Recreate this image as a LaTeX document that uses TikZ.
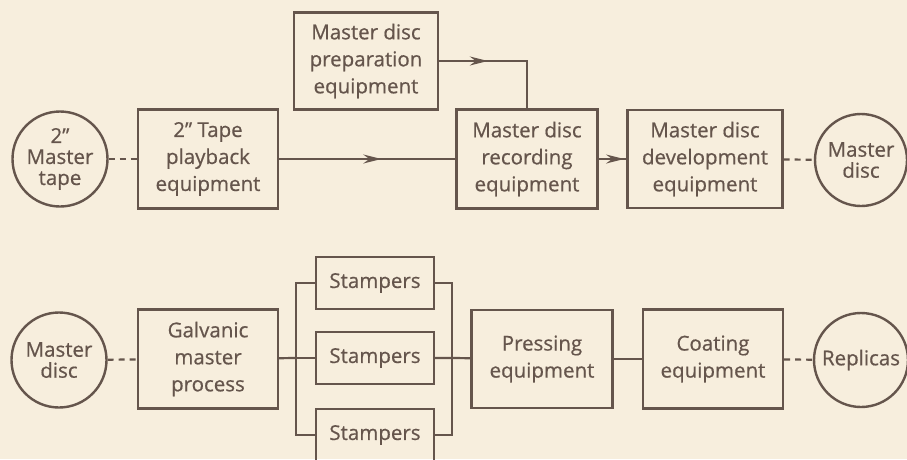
\documentclass[tikz,border=0pt]{standalone}
\usepackage{fontspec}
\setmainfont{Open Sans}[FakeBold=0.6]
\usetikzlibrary{arrows.meta,decorations.markings}
\definecolor{paper}{HTML}{F7EEDD}
\definecolor{ink}{HTML}{65554C}

\begin{document}
\begin{tikzpicture}[
    x=1pt, y=-1pt,
    every node/.style={font=\fontsize{20.5}{27}\selectfont, align=center, text=ink},
    box/.style={draw=ink, line width=2.4pt, minimum width=#1, inner sep=2pt},
    box/.default=140pt,
    disc/.style={draw=ink, line width=2.4pt, circle, minimum size=95pt, inner sep=0pt},
    link/.style={draw=ink, line width=2.2pt},
    dashlink/.style={link, dash pattern=on 6pt off 5pt},
    midarrow/.style={postaction={decorate}, decoration={markings,
        mark=at position #1 with {\arrow{Stealth[length=18pt, width=9pt, inset=6pt]}}}},
  ]
  \fill[paper] (0,0) rectangle (907,459);
  \useasboundingbox (0,0) rectangle (907,459);

  % recording line
  \node[disc] (tape) at (60,159) {2"\\[-6pt]Master\\[-6pt]tape};
  \node[box, minimum height=99pt] (play) at (208,159) {2" Tape\\playback\\equipment};
  \node[box=144pt, minimum height=97pt] (prep) at (366,61) {Master disc\\preparation\\equipment};
  \node[box=141pt, minimum height=99pt] (rec) at (527,159) {Master disc\\recording\\equipment};
  \node[box=155pt, minimum height=98pt] (dev) at (705,159) {Master disc\\development\\equipment};
  \node[disc, minimum size=92pt] (mdisc) at (861,160) {Master\\[-6pt]disc};

  \draw[dashlink] (tape) -- (play);
  \draw[link, midarrow=0.58] (play) -- (rec);
  \draw[link, midarrow=0.36] (prep.east) -| (rec.north);
  \draw[link, midarrow=0.92] (rec) -- (dev);
  \draw[dashlink] (dev) -- (mdisc);

  % replication line
  \node[disc] (mdisc2) at (59,360) {Master\\[-6pt]disc};
  \node[box, minimum height=99pt] (galv) at (208,359) {Galvanic\\master\\process};
  \node[box=118pt, minimum height=52pt] (st1) at (375,283) {Stampers};
  \node[box=118pt, minimum height=52pt] (st2) at (375,358) {Stampers};
  \node[box=118pt, minimum height=52pt] (st3) at (375,435) {Stampers};
  \node[box=141pt, minimum height=98pt] (press) at (542,359) {Pressing\\equipment};
  \node[box, minimum height=99pt] (coat) at (713,359) {Coating\\equipment};
  \node[disc, minimum size=94pt] (repl) at (861,360) {Replicas};

  \coordinate (busL) at (296,358);
  \coordinate (busR) at (452,358);

  \draw[dashlink] (mdisc2) -- (galv);
  \draw[link] (galv) -- (busL);
  \draw[link] (st1.west) -| (busL) |- (st3.west);
  \draw[link] (busL) -- (st2);
  \draw[link] (st1.east) -| (busR) |- (st3.east);
  \draw[link] (st2) -- (busR) -- (press);
  \draw[link] (press) -- (coat);
  \draw[dashlink] (coat) -- (repl);
\end{tikzpicture}
\end{document}
